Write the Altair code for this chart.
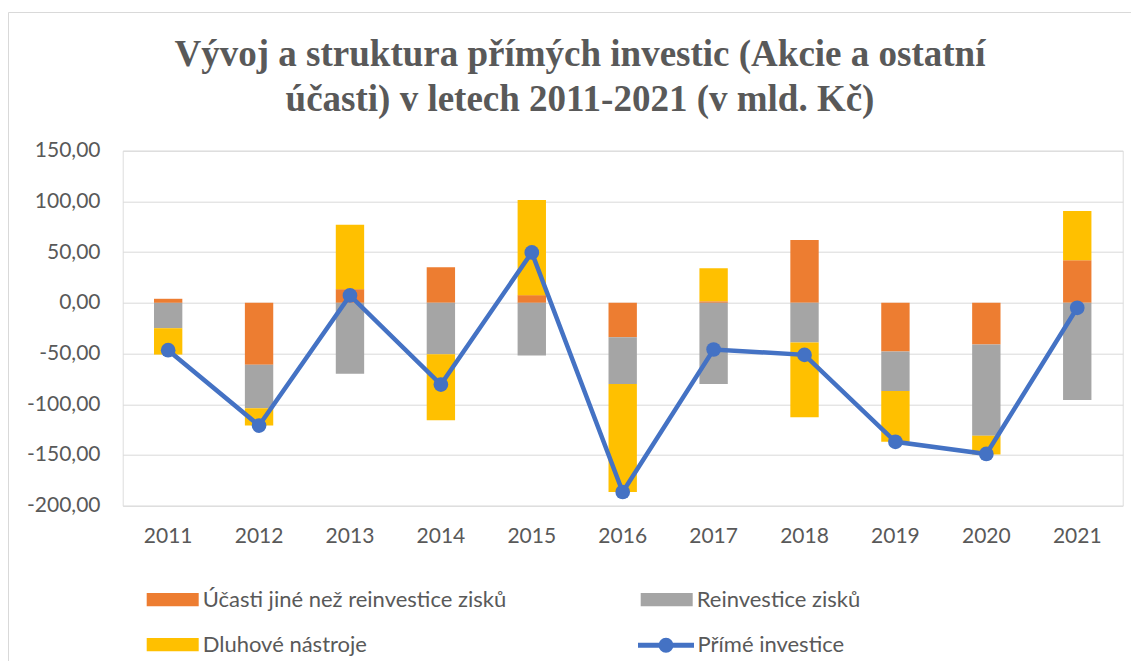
import altair as alt
import pandas as pd

years = ["2011", "2012", "2013", "2014", "2015", "2016", "2017", "2018", "2019", "2020", "2021"]
ucasti = [4.0, -61.0, 13.5, 35.0, 7.6, -34.0, 1.5, 62.0, -48.0, -41.0, 42.0]
reinvestice = [-25.0, -43.0, -70.0, -50.7, -52.0, -46.0, -80.0, -39.0, -39.0, -90.0, -95.7]
dluhove = [-26.0, -17.0, 63.5, -65.0, 93.7, -106.6, 32.7, -73.7, -50.0, -18.5, 48.5]
prime = [-46.7, -121.0, 7.3, -80.6, 49.7, -186.5, -46.0, -51.3, -137.0, -149.0, -4.9]

series_names = ["Účasti jiné než reinvestice zisků", "Reinvestice zisků", "Dluhové nástroje"]
line_name = "Přímé investice"
bar_colors = ["#ED7D31", "#A5A5A5", "#FFC000"]
line_color = "#4472C4"
y_ticks = [-200, -150, -100, -50, 0, 50, 100, 150]
title_lines = ["Vývoj a struktura přímých investic (Akcie a ostatní",
               "účasti) v letech 2011-2021 (v mld. Kč)"]

FONT = "Lato"
TXT = "#595959"

rows = []
for idx, (name, vals) in enumerate(zip(series_names, [ucasti, reinvestice, dluhove])):
    for yr, v in zip(years, vals):
        rows.append({"year": yr, "series": name, "idx": idx, "value": v})
bar_df = pd.DataFrame(rows)
line_df = pd.DataFrame({"year": years, "value": prime, "series": [line_name] * len(years)})

# legend fills column by column: order the domain so rows read like the reference
legend_domain = [series_names[0], series_names[2], series_names[1]]
legend_range = [bar_colors[0], bar_colors[2], bar_colors[1]]

y_scale = alt.Scale(domain=[-200, 150], nice=False, zero=False)
y_axis = alt.Axis(
    title=None, values=y_ticks, domain=False, ticks=False, tickSize=0,
    labelPadding=22.7, labelFont=FONT, labelFontSize=21, labelColor=TXT,
    labelExpr="(datum.value < 0 ? '-' : '') + replace(format(abs(datum.value), '.2f'), '.', ',')",
    grid=True, gridColor="#D9D9D9", gridWidth=1,
)
x_axis = alt.Axis(
    title=None, domain=False, ticks=False, tickSize=0, labelFont=FONT,
    labelFontSize=21, labelColor=TXT, labelPadding=20, labelAngle=0, grid=False,
)
x_scale = alt.Scale(paddingInner=0.688, paddingOuter=0.344)

rect_path = "M-1,-0.256L1,-0.256L1,0.256L-1,0.256Z"
line_path = ("M-1,0L1,0"
             "M-0.1786,0A0.1786,0.1786 0 1,0 0.1786,0A0.1786,0.1786 0 1,0 -0.1786,0"
             "M-0.0893,0A0.0893,0.0893 0 1,0 0.0893,0A0.0893,0.0893 0 1,0 -0.0893,0")

bars = alt.Chart(bar_df).mark_bar().encode(
    x=alt.X("year:N", sort=years, scale=x_scale, axis=x_axis),
    y=alt.Y("value:Q", scale=y_scale, axis=y_axis, stack="zero"),
    color=alt.Color(
        "series:N",
        scale=alt.Scale(domain=legend_domain, range=legend_range),
        legend=alt.Legend(
            orient="none", legendX=24, legendY=423, columns=2, columnPadding=134,
            rowPadding=8, symbolType=rect_path, symbolSize=2704, symbolStrokeWidth=0,
            labelFont=FONT, labelFontSize=22, labelColor=TXT, labelOffset=4,
            labelLimit=0, title=None, padding=0,
        ),
    ),
    order=alt.Order("idx:Q", sort="ascending"),
)

line = alt.Chart(line_df).mark_line(strokeWidth=4.5).encode(
    x=alt.X("year:N", sort=years, scale=x_scale, axis=x_axis),
    y=alt.Y("value:Q", scale=y_scale, axis=y_axis),
    stroke=alt.Stroke(
        "series:N",
        scale=alt.Scale(domain=[line_name], range=[line_color]),
        legend=alt.Legend(
            orient="none", legendX=512.8, legendY=464, symbolType=line_path,
            symbolSize=3136, symbolStrokeWidth=5, symbolFillColor=line_color,
            labelFont=FONT, labelFontSize=22, labelColor=TXT, labelOffset=1,
            labelLimit=0, title=None, padding=0,
        ),
    ),
)

points = alt.Chart(line_df).mark_circle(size=216, opacity=1, color=line_color).encode(
    x=alt.X("year:N", sort=years, scale=x_scale, axis=x_axis),
    y=alt.Y("value:Q", scale=y_scale, axis=y_axis),
)

border = alt.Chart(alt.Data(values=[{"a": 1}])).mark_rect(
    fill="transparent", stroke="#D9D9D9", strokeWidth=1
).encode(
    x=alt.value(-114.2), x2=alt.value(1100), y=alt.value(-138.2), y2=alt.value(700)
)

chart = alt.layer(border, bars, line, points).properties(
    width=1000,
    height=355,
    title=alt.TitleParams(
        text=title_lines, font="Liberation Serif", fontSize=37, fontWeight="bold",
        color=TXT, anchor="middle", dx=-42.7, dy=137, offset=30, lineHeight=45,
    ),
    padding={"left": 114.7, "top": 142.7, "right": 8.3, "bottom": 155.3},
    autosize=alt.AutoSizeParams(type="none"),
).configure_view(stroke="transparent").configure(background="white")

chart.save("out.html", embed_options={"renderer": "svg", "actions": False})
